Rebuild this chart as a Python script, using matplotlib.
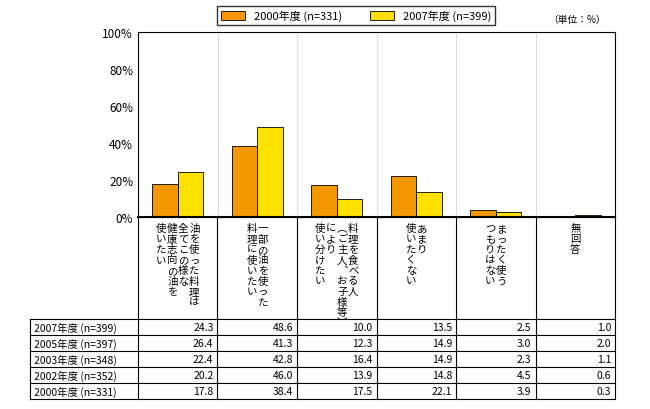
import matplotlib.pyplot as plt
from matplotlib.lines import Line2D
import numpy as np

plt.rcParams['font.family'] = ['Noto Sans CJK JP']

categories = [
    ["油を使った料理は", "全てこの様な", "健康志向の油を", "使いたい"],
    ["一部の油を使った", "料理に使いたい"],
    ["料理を食べる人", "（ご主人、お子様等）", "により", "使い分けたい"],
    ["あまり", "使いたくない"],
    ["まったく使う", "つもりはない"],
    ["無回答"],
]
v2000 = [17.8, 38.4, 17.5, 22.1, 3.9, 0.3]
v2007 = [24.3, 48.6, 10.0, 13.5, 2.5, 1.0]
row_labels = ["2007年度 (n=399)", "2005年度 (n=397)", "2003年度 (n=348)",
              "2002年度 (n=352)", "2000年度 (n=331)"]
table_vals = [
    [24.3, 48.6, 10.0, 13.5, 2.5, 1.0],
    [26.4, 41.3, 12.3, 14.9, 3.0, 2.0],
    [22.4, 42.8, 16.4, 14.9, 2.3, 1.1],
    [20.2, 46.0, 13.9, 14.8, 4.5, 0.6],
    [17.8, 38.4, 17.5, 22.1, 3.9, 0.3],
]

W, H = 650, 410
fig = plt.figure(figsize=(6.5, 4.1), dpi=100)
L, R, T, B = 138, 615, 33, 218
ax = fig.add_axes([L / W, 1 - B / H, (R - L) / W, (B - T) / H])
x = np.arange(len(v2000))
ax.bar(x - 0.16, v2000, 0.32, color='#F39800', edgecolor='black', linewidth=0.6, label='2000年度 (n=331)')
ax.bar(x + 0.16, v2007, 0.32, color='#FFE100', edgecolor='black', linewidth=0.6, label='2007年度 (n=399)')
ax.set_xlim(-0.5, len(x) - 0.5)
ax.set_ylim(0, 100)
ax.set_yticks(range(0, 101, 20))
ax.set_yticklabels([f"{v}%" for v in range(0, 101, 20)], fontsize=8.5)
ax.set_xticks([])
ax.tick_params(axis='y', length=0)
for k in range(1, len(x)):
    ax.axvline(k - 0.5, color='#dddddd', linewidth=0.8, zorder=0)
for s in ax.spines.values():
    s.set_linewidth(0.8)
ax.legend(loc='lower center', bbox_to_anchor=(0.457, 1.01), ncol=2, frameon=True, fancybox=False,
          edgecolor='black', fontsize=8, handlelength=2.2, handleheight=0.8, borderpad=0.3,
          columnspacing=2.5)
fig.text(606 / W, 1 - 20 / H, "（単位：%）", fontsize=7, ha='right', va='center')

def px(xp, yp):
    return xp / W, 1 - yp / H

def hline(y, x0, x1, lw=0.8):
    fig.add_artist(Line2D([x0 / W, x1 / W], [1 - y / H, 1 - y / H], color='black', lw=lw))

def vline(xp, y0, y1):
    fig.add_artist(Line2D([xp / W, xp / W], [1 - y0 / H, 1 - y1 / H], color='black', lw=0.8))

colw = (R - L) / len(categories)
rows_y = [320, 336, 352, 368, 384, 400]
hline(B, L, R, 1.5)
for y in rows_y:
    hline(y, 30, R)
for k in range(len(categories) + 1):
    vline(L + k * colw, B, rows_y[-1])
vline(30, rows_y[0], rows_y[-1])

# vertical header text, columns right to left
for c, lines in enumerate(categories):
    n = len(lines)
    step = 11
    x0 = L + (c + 0.5) * colw + (n - 1) * step / 2
    for j, ln in enumerate(lines):
        xx = x0 - j * step
        for m, ch in enumerate(ln):
            if ch in "（(":
                ch = "︵"
            elif ch in "）)":
                ch = "︶"
            elif ch == "、":
                ch = "︑"
            fig.text(*px(xx, 229 + m * 10.5), ch, fontsize=7.5, ha='center', va='center')

for r, lab in enumerate(row_labels):
    yc = (rows_y[r] + rows_y[r + 1]) / 2
    fig.text(*px(34, yc), lab, fontsize=7.5, ha='left', va='center')
    for c, v in enumerate(table_vals[r]):
        fig.text(*px(L + (c + 1) * colw - 4, yc), f"{v:.1f}", fontsize=7.5, ha='right', va='center')

fig.savefig("out.png", dpi=100)
